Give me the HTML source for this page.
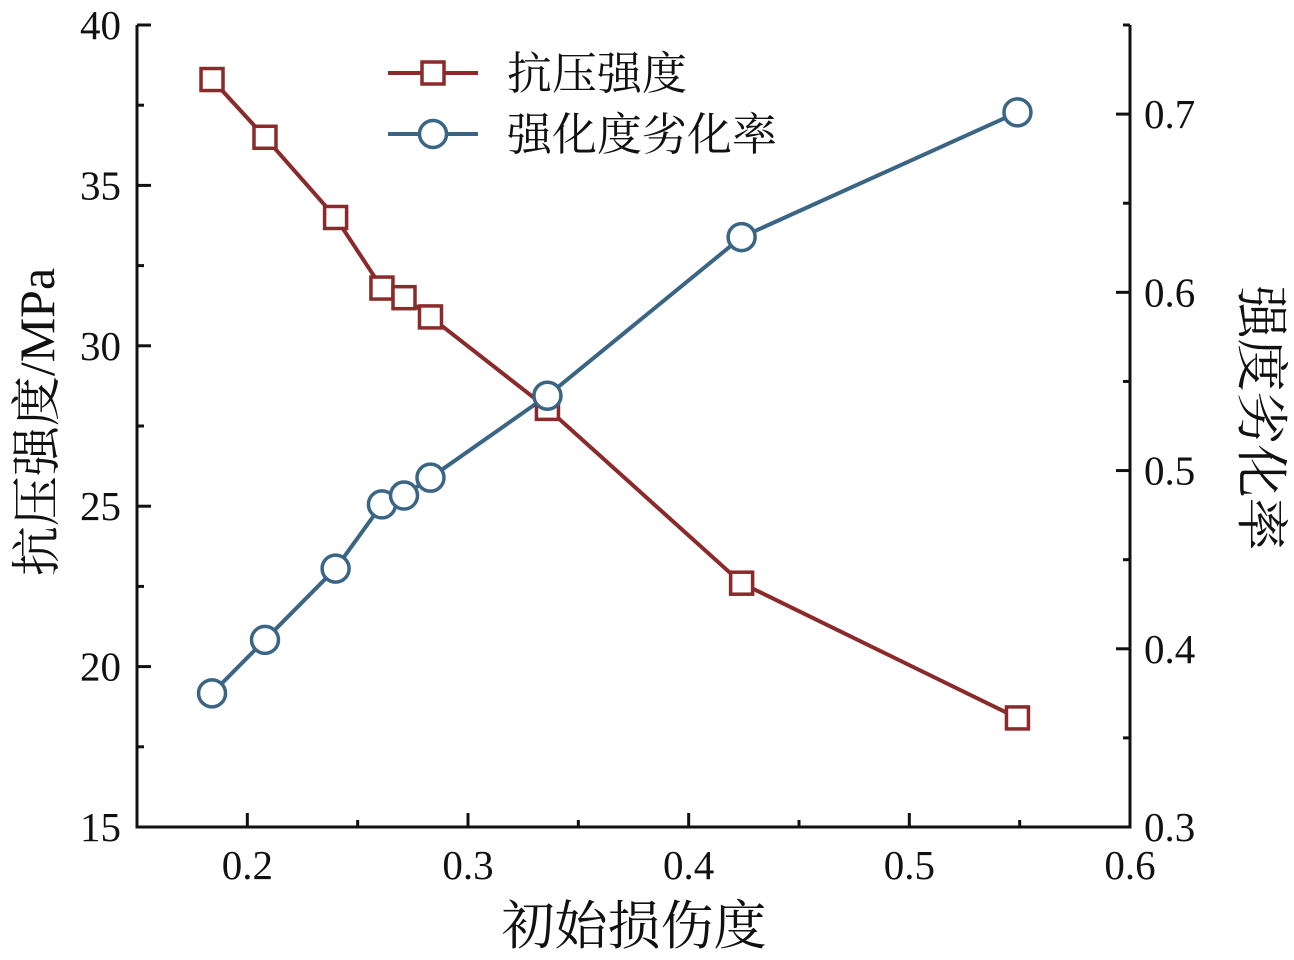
<!DOCTYPE html>
<html><head><meta charset="utf-8"><style>
html,body{margin:0;padding:0;background:#fff;}
svg text{font-family:"Liberation Serif","Noto Serif CJK SC",serif;fill:#111;}
</style></head><body>
<svg id="chart" width="1294" height="955" xmlns="http://www.w3.org/2000/svg">
<g id="axes"></g>
<g id="series"></g>
<g id="legend"></g>
</svg>
<script>
const xValues=[0.184,0.208,0.240,0.261,0.271,0.283,0.336,0.424,0.549];
const strengthValues=[38.3,36.5,34.0,31.8,31.5,30.9,28.05,22.6,18.4];
const rateValues=[0.375,0.405,0.445,0.481,0.486,0.496,0.542,0.631,0.701];
const xTicks=[0.2,0.3,0.4,0.5,0.6];
const yLeftTicks=[15,20,25,30,35,40];
const yRightTicks=[0.3,0.4,0.5,0.6,0.7];
const legendLabels=["抗压强度","强化度劣化率"];

const L=137,R=1130,T=25,B=827;
const RED="#8a2a2a",BLUE="#3a6585";
const X=v=>L+(v-0.15)/(0.6-0.15)*(R-L);
const YL=v=>B-(v-15)/(40-15)*(B-T);
const YR=v=>B-(v-0.3)/(0.75-0.3)*(B-T);
const NS="http://www.w3.org/2000/svg";
function mk(parent,tag,attrs){const e=document.createElementNS(NS,tag);for(const k in attrs)e.setAttribute(k,attrs[k]);parent.appendChild(e);return e;}
const ax=document.getElementById('axes');
let e;
e=mk(ax,'path',{d:`M${L},${T} V${B} H${R} V${T}`,fill:'none',stroke:'#111','stroke-width':3});


xTicks.forEach(v=>{
 e=mk(ax,'line',{x1:X(v),x2:X(v),y1:B,y2:B-14,stroke:'#111','stroke-width':3});
 
 
 e=mk(ax,'line',{x1:X(v-0.05),x2:X(v-0.05),y1:B,y2:B-7,stroke:'#111','stroke-width':3});
 
 
 e=mk(ax,'text',{x:X(v),y:B+52,'text-anchor':'middle','font-size':41});
 e.textContent=v.toFixed(1);
 
 
});
yLeftTicks.forEach((v,i)=>{
 e=mk(ax,'line',{x1:L,x2:L+14,y1:YL(v),y2:YL(v),stroke:'#111','stroke-width':3});
 
 
 if(i>0){e=mk(ax,'line',{x1:L,x2:L+7,y1:YL(v-2.5),y2:YL(v-2.5),stroke:'#111','stroke-width':3});
 
 }
 e=mk(ax,'text',{x:L-16,y:YL(v)+14,'text-anchor':'end','font-size':41});
 e.textContent=v;
 
 
});
yRightTicks.forEach(v=>{
 e=mk(ax,'line',{x1:R,x2:R-14,y1:YR(v),y2:YR(v),stroke:'#111','stroke-width':3});
 
 
 e=mk(ax,'line',{x1:R,x2:R-7,y1:YR(v+0.05),y2:YR(v+0.05),stroke:'#111','stroke-width':3});
 
 
 e=mk(ax,'text',{x:R+14,y:YR(v)+14,'text-anchor':'start','font-size':41});
 e.textContent=v.toFixed(1);
 
 
});
e=mk(ax,'text',{x:634,y:944,'text-anchor':'middle','font-size':53});
e.textContent='初始损伤度';


e=mk(ax,'text',{x:0,y:0,'text-anchor':'middle','font-size':50,transform:'translate(54,422) rotate(-90)'});
e.textContent='抗压强度/MPa';


e=mk(ax,'text',{x:0,y:0,'text-anchor':'middle','font-size':53,transform:'translate(1243,418) rotate(90)'});
e.textContent='强度劣化率';



const sg=document.getElementById('series');
function sq(g,cx,cy){return mk(g,'rect',{x:cx-11,y:cy-11,width:22,height:22,fill:'#fff',stroke:RED,'stroke-width':3.5});}
function ci(g,cx,cy){return mk(g,'circle',{cx:cx,cy:cy,r:13.5,fill:'#fff',stroke:BLUE,'stroke-width':3.5});}
e=mk(sg,'polyline',{points:xValues.map((x,i)=>X(x)+','+YL(strengthValues[i])).join(' '),fill:'none',stroke:RED,'stroke-width':4});


e=mk(sg,'polyline',{points:xValues.map((x,i)=>X(x)+','+YR(rateValues[i])).join(' '),fill:'none',stroke:BLUE,'stroke-width':4});


xValues.forEach((x,i)=>{
 e=sq(sg,X(x),YL(strengthValues[i]));
 
 
});
xValues.forEach((x,i)=>{
 e=ci(sg,X(x),YR(rateValues[i]));
 
 
});
const lg=document.getElementById('legend');
[[73,RED,sq],[134,BLUE,ci]].forEach((r,i)=>{
 e=mk(lg,'line',{x1:388,x2:478,y1:r[0],y2:r[0],stroke:r[1],'stroke-width':4});
 
 
 e=r[2](lg,433,r[0]);
 
 
 e=mk(lg,'text',{x:507,y:r[0]+16,'font-size':45});
 e.textContent=legendLabels[i];
 
 
});
</script>
</body></html>
